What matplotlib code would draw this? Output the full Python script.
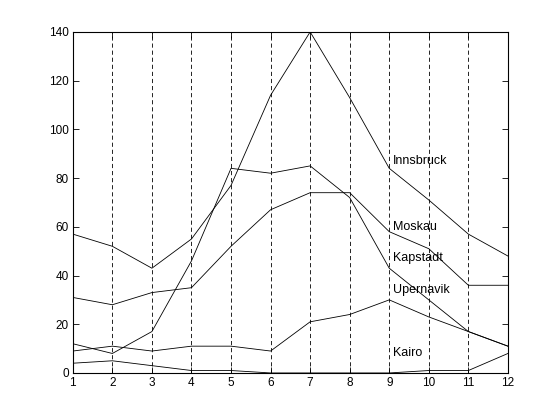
import matplotlib
matplotlib.use("Agg")
import matplotlib.pyplot as plt

months = list(range(1, 13))
innsbruck = [57, 52, 43, 55, 77, 114, 140, 113, 84, 71, 57, 48]
moskau = [31, 28, 33, 35, 52, 67, 74, 74, 58, 51, 36, 36]
kapstadt = [12, 8, 17, 46, 84, 82, 85, 72, 43, 30, 17, 11]
upernavik = [9, 11, 9, 11, 11, 9, 21, 24, 30, 23, 17, 11]
kairo = [4, 5, 3, 1, 1, 0, 0, 0, 0, 1, 1, 8]

label_names = ["Innsbruck", "Moskau", "Kapstadt", "Upernavik", "Kairo"]
label_x = 9.1
label_y = [87, 60, 47, 34, 8]

yticks = [0, 20, 40, 60, 80, 100, 120, 140]

plt.rcParams['font.family'] = ['Liberation Sans', 'DejaVu Sans']

fig = plt.figure(figsize=(5.6, 4.2), dpi=100)
ax = fig.add_axes([0.13, 0.112, 0.777, 0.812])

for series in [innsbruck, moskau, kapstadt, upernavik, kairo]:
    ax.plot(months, series, color='black', linewidth=0.6)

for name, y in zip(label_names, label_y):
    ax.text(label_x, y, name, fontsize=9, ha='left', va='center', color='black')

ax.set_xlim(1, 12)
ax.set_ylim(0, 140)
ax.set_xticks(months)
ax.set_yticks(yticks)
ax.xaxis.grid(True, linestyle=(0, (5, 3.5)), color='black', linewidth=0.6)
ax.tick_params(direction='in', top=True, right=True, length=4, width=0.6,
               labelsize=8.5, colors='black', pad=3)
for s in ax.spines.values():
    s.set_linewidth(0.8)
    s.set_color('black')

fig.savefig('out.png', dpi=100, facecolor='white')
